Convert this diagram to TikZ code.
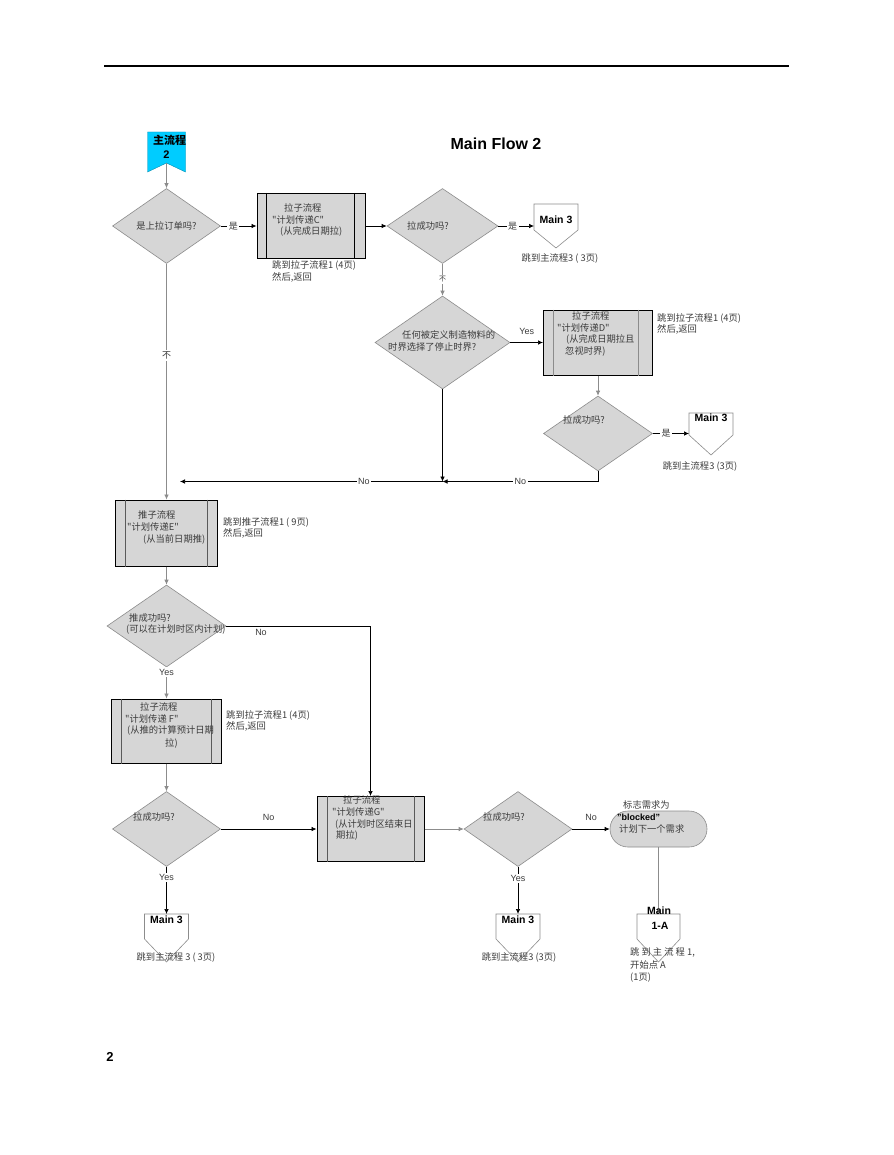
\documentclass[tikz,border=0pt]{standalone}
\usepackage{fontspec}
\setmainfont{Liberation Sans}
\newfontfamily\cjk{Noto Sans CJK SC}
\usetikzlibrary{shapes.geometric,arrows.meta,calc}
\definecolor{fillg}{RGB}{214,214,214}
\definecolor{lineg}{RGB}{140,140,140}
\definecolor{innerg}{RGB}{90,90,90}
\definecolor{txtc}{RGB}{60,60,60}
\definecolor{cyanf}{RGB}{0,204,255}
\newcommand\offpg[6]{%
  \draw[lineg,fill=white,line width=0.6pt] (#2-#4,#3) -- (#2+#4,#3) -- (#2+#4,#5) -- (#2,#6) -- (#2-#4,#5) -- cycle;
  \coordinate (#1) at (#2,#3);}
\begin{document}
\begin{tikzpicture}[x=1pt,y=-1pt,
 dia/.style={diamond,draw=lineg,fill=fillg,line width=0.6pt,inner sep=0pt},
 box/.style={rectangle,draw=black,fill=fillg,line width=1pt,inner sep=0pt},
 ct/.style={font=\cjk\fontsize{9.3}{11}\selectfont,text=txtc,inner sep=0pt},
 lt/.style={ct,anchor=west},
 mn/.style={font=\bfseries\fontsize{10.5}{12}\selectfont,inner sep=0pt},
 lab/.style={fill=white,inner sep=1.5pt,font=\cjk\fontsize{9}{11}\selectfont,text=txtc},
 labE/.style={fill=white,inner sep=1.5pt,font=\fontsize{9}{11}\selectfont,text=txtc},
 en/.style={font=\fontsize{9}{11}\selectfont,text=txtc,inner sep=0pt},
 ar/.style={-{Latex[length=5pt,width=4.5pt]},line width=0.7pt},
 bl/.style={ar,black},
 gl/.style={ar,lineg}]
\useasboundingbox (0,0) rectangle (893,1155);
\fill[white] (0,0) rectangle (893,1155);
% header, title, page number
\draw[line width=1.2pt] (104,66) -- (789,66);
\node[font=\bfseries\fontsize{16}{18}\selectfont] (title) at (496,144) {Main Flow 2};
\node[font=\bfseries\fontsize{13}{15}\selectfont] (pg) at (110,1057) {2};
% start pennant
\draw[fill=cyanf,draw=cyanf!70!black,line width=0.4pt] (147.5,132) -- (185.5,132) -- (185.5,172) -- (166.5,163) -- (147.5,172) -- cycle;
\coordinate (start) at (166.5,163);
% diamonds
\node[dia,minimum width=108pt,minimum height=75pt] (d1) at (166.5,226) {};
\node[dia,minimum width=111pt,minimum height=75pt] (d2) at (442.5,226) {};
\node[dia,minimum width=135pt,minimum height=93pt] (d3) at (442.5,342.5) {};
\node[dia,minimum width=109pt,minimum height=75pt] (d4) at (598,433.5) {};
\node[dia,minimum width=119pt,minimum height=82pt] (d5) at (166.5,626) {};
\node[dia,minimum width=108pt,minimum height=75pt] (d6) at (166.5,829) {};
\node[dia,minimum width=108pt,minimum height=75pt] (d7) at (518,829) {};
% boxes
\node[box,minimum width=108pt,minimum height=65pt] (bC) at (311,226) {};
\node[box,minimum width=109pt,minimum height=65pt] (bD) at (598,342.5) {};
\node[box,minimum width=102pt,minimum height=66pt] (bE) at (166.5,533) {};
\node[box,minimum width=110pt,minimum height=64pt] (bF) at (166.5,731) {};
\node[box,minimum width=107pt,minimum height=65pt] (bG) at (370.5,829) {};
\draw[black,line width=0.8pt] ([xshift=10pt]bC.north west) -- ([xshift=10pt]bC.south west);
\draw[black,line width=0.8pt] ([xshift=-11pt]bC.north east) -- ([xshift=-11pt]bC.south east);
\draw[lineg,line width=0.8pt] ([xshift=10pt]bD.north west) -- ([xshift=10pt]bD.south west);
\draw[lineg,line width=0.8pt] ([xshift=-15pt]bD.north east) -- ([xshift=-15pt]bD.south east);
\foreach \b in {bE,bF,bG}{
  \draw[innerg,line width=0.6pt] ([xshift=10.5pt]\b.north west) -- ([xshift=10.5pt]\b.south west);
  \draw[innerg,line width=0.6pt] ([xshift=-10.5pt]\b.north east) -- ([xshift=-10.5pt]\b.south east);}
% terminal
\node[draw=lineg,fill=fillg,line width=0.6pt,rounded corners=18pt,minimum width=97pt,minimum height=36pt,inner sep=0pt] (term) at (658.5,829) {};
% off-page connectors
\offpg{m1}{556}{204}{22}{230}{248}
\offpg{m2}{711}{413}{22}{435}{455}
\offpg{m3}{166.5}{914}{22}{939}{962}
\offpg{m4}{518}{914}{22}{939}{962}
\offpg{m5}{658.5}{914}{21.5}{939}{962}
\coordinate (m1in) at (534,226);
\coordinate (m2in) at (689,433.5);
\coordinate (j1) at (442.5,481.5);
\coordinate (j2) at (180,481.5);
% connectors
\draw[gl] (start) -- (d1.north);
\draw[bl] (d1.east) -- node[lab,pos=0.35] (l1) {是} (bC.west);
\draw[bl] (bC.east) -- (d2.west);
\draw[bl] (d2.east) -- node[lab,pos=0.4] (l2) {是} (m1in);
\draw[gl] (d2.south) -- node[lab,pos=0.48,font=\cjk\fontsize{7}{8}\selectfont] (l3) {不} (d3.north);
\draw[bl] (d3.east) -- node[en,above=8pt] (l4) {Yes} (bD.west);
\draw[gl] (bD.south) -- (d4.north);
\draw[bl] (d4.east) -- node[lab,pos=0.37] (l5) {是} (m2in);
\draw[bl] (d4.south) |- node[labE,pos=0.75] (l6) {No} (j1);
\draw[bl] (d3.south) -- (j1);
\draw[bl] (j1) -- node[labE,pos=0.3] (l7) {No} (j2);
\draw[gl] (d1.south) -- node[lab,pos=0.39] (l8) {不} (bE.north);
\draw[gl] (bE.south) -- (d5.north);
\draw[bl] (d5.east) -| (bG.north);
\node[en] (l9) at (261,632) {No};
\draw[gl] (d5.south) -- node[labE,pos=0.15] (l10) {Yes} (bF.north);
\draw[gl] (bF.south) -- (d6.north);
\draw[bl] (d6.east) -- node[en,above=8.5pt] (l11) {No} (bG.west);
\draw[bl] (d6.south) -- node[labE,pos=0.23] (l12) {Yes} (m3);
\draw[gl] (bG.east) -- (d7.west);
\draw[bl] (d7.east) -- node[en,above=8.5pt] (l13) {No} (term.west);
\draw[bl] (d7.south) -- node[labE,pos=0.25] (l14) {Yes} (m4);
\draw[gl] (term.south) -- (m5);
% texts
\node[font=\cjk\bfseries\fontsize{11}{13}\selectfont,inner sep=0pt] (st1) at (169.5,140) {主流程};
\node[font=\bfseries\fontsize{11}{13}\selectfont,inner sep=0pt] (st2) at (166.5,155) {2};
\node[ct] (t1) at (166.5,226) {是上拉订单吗?};
\node[lt] (t2) at (284,208) {拉子流程};
\node[lt] (t3) at (272,219.5) {"计划传递C"};
\node[lt] (t4) at (280,231) {(从完成日期拉)};
\node[lt] (t5) at (272,265.5) {跳到拉子流程1 (4页)};
\node[lt] (t6) at (272,277) {然后,返回};
\node[lt] (t7) at (407,226) {拉成功吗?};
\node[mn] (t8) at (556,220) {Main 3};
\node[ct] (t9) at (560,259) {跳到主流程3 ( 3页)};
\node[lt] (t10) at (402,335) {任何被定义制造物料的};
\node[lt] (t11) at (388,346.5) {时界选择了停止时界?};
\node[lt] (t12) at (572,316) {拉子流程};
\node[lt] (t13) at (557,327.5) {"计划传递D"};
\node[lt] (t14) at (566,339.5) {(从完成日期拉且};
\node[lt] (t15) at (565,351.5) {忽视时界)};
\node[lt] (t16) at (657,318) {跳到拉子流程1 (4页)};
\node[lt] (t17) at (657,329) {然后,返回};
\node[lt] (t18) at (563,420) {拉成功吗?};
\node[mn] (t19) at (711,418) {Main 3};
\node[ct] (t20) at (700,466) {跳到主流程3 (3页)};
\node[lt] (t21) at (138,515) {推子流程};
\node[lt] (t22) at (127,527) {"计划传递E"};
\node[lt] (t23) at (143,539) {(从当前日期推)};
\node[lt] (t24) at (223,522) {跳到推子流程1 ( 9页)};
\node[lt] (t25) at (223,533) {然后,返回};
\node[lt] (t26) at (129,618) {推成功吗?};
\node[lt] (t27) at (126,629.5) {(可以在计划时区内计划)};
\node[lt] (t28) at (140,707) {拉子流程};
\node[lt] (t29) at (125,719) {"计划传递 F"};
\node[lt] (t30) at (127,730.5) {(从推的计算预计日期};
\node[lt] (t31) at (165,743) {拉)};
\node[lt] (t32) at (226,715.5) {跳到拉子流程1 (4页)};
\node[lt] (t33) at (226,726.5) {然后,返回};
\node[lt] (t34) at (133,817) {拉成功吗?};
\node[lt] (t35) at (343,800) {拉子流程};
\node[lt] (t36) at (332,812) {"计划传递G"};
\node[lt] (t37) at (335,824) {(从计划时区结束日};
\node[lt] (t38) at (336,835.5) {期拉)};
\node[lt] (t39) at (483,817) {拉成功吗?};
\node[lt] (t40) at (623,805) {标志需求为};
\node[font=\bfseries\fontsize{9}{11}\selectfont,inner sep=0pt,anchor=west] (t41) at (617,817) {"blocked"};
\node[lt] (t42) at (619,828.5) {计划下一个需求};
\node[mn] (t43) at (166.5,920) {Main 3};
\node[ct] (t44) at (176,957) {跳到主流程 3 ( 3页)};
\node[mn] (t45) at (518,920) {Main 3};
\node[ct] (t46) at (519,957) {跳到主流程3 (3页)};
\node[mn] (t47) at (659,911) {Main};
\node[mn] (t48) at (660,926) {1-A};
\node[lt] (t49) at (630,952) {跳 到 主 流 程 1,};
\node[lt] (t50) at (630,965) {开始点 A};
\node[lt] (t51) at (630,978) {(1页)};
\end{tikzpicture}
\end{document}
